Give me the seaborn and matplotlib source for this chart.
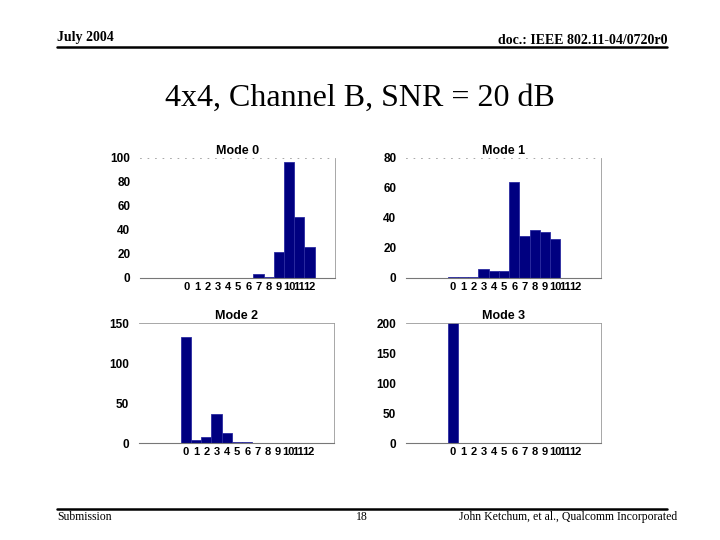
import numpy as np
import pandas as pd
import matplotlib
matplotlib.use("Agg")
import matplotlib.pyplot as plt
import seaborn as sns

# histogram counts per mode, bins 0..12
bins = list(range(13))
mode0 = [0, 0, 0, 0, 0, 0, 0, 3, 1, 22, 97, 51, 26]
mode1 = [1, 1, 1, 6, 5, 5, 64, 28, 32, 31, 26, 0, 0]
mode2 = [133, 4, 8, 36, 12, 1, 1, 0, 0, 0, 0, 0, 0]
mode3 = [200, 0, 0, 0, 0, 0, 0, 0, 0, 0, 0, 0, 0]
titles = ["Mode 0", "Mode 1", "Mode 2", "Mode 3"]
yticks = [[0, 20, 40, 60, 80, 100], [0, 20, 40, 60, 80],
          [0, 50, 100, 150], [0, 50, 100, 150, 200]]

sns.set_style("white")
plt.rcParams['font.family'] = ['Liberation Sans', 'DejaVu Sans']
plt.rcParams['text.color'] = 'black'
plt.rcParams['xtick.color'] = 'black'
plt.rcParams['ytick.color'] = 'black'

fig = plt.figure(figsize=(7.2, 5.4), dpi=100)

# slide header / footer
fig.text(57/720, 1 - 38/540, "July 2004", family="Liberation Serif",
         fontsize=10, fontweight="bold", ha="left", va="center")
fig.text(667/720, 1 - 40/540, "doc.: IEEE 802.11-04/0720r0", family="Liberation Serif",
         fontsize=10, fontweight="bold", ha="right", va="center")
fig.add_artist(plt.Line2D([57/720, 667/720], [1 - 47/540, 1 - 47/540], color="black", lw=1.8))
fig.text(360/720, 1 - 98/540, "4x4, Channel B, SNR = 20 dB", family="Liberation Serif",
         fontsize=23, ha="center", va="center")
fig.add_artist(plt.Line2D([57/720, 667/720], [1 - 509/540, 1 - 509/540], color="black", lw=1.8))
fig.text(57/720, 1 - 517/540, "Submission", family="Liberation Serif",
         fontsize=8.5, ha="left", va="center")
fig.text(362/720, 1 - 517/540, "18", family="Liberation Serif",
         fontsize=8.5, ha="center", va="center")
fig.text(677/720, 1 - 517/540, "John Ketchum, et al., Qualcomm Incorporated",
         family="Liberation Serif", fontsize=8.5, ha="right", va="center")

# axes boxes in pixels: left, top
boxes = [(140, 158), (406, 158), (139, 323), (406, 323)]
w, h = 195, 120
data = [mode0, mode1, mode2, mode3]

for i in range(4):
    left, top = boxes[i]
    ax = fig.add_axes([left/720, 1 - (top + h)/540, w/720, h/540])
    df = pd.DataFrame({"bin": bins, "count": data[i]})
    sns.barplot(data=df, x="bin", y="count", width=1.0, color="#000080",
                edgecolor="#2b2ba0", linewidth=0.6, saturation=1,
                native_scale=True, ax=ax)
    ax.set_xlim(-4.6, 14.5)
    ax.set_ylim(0, yticks[i][-1])
    ax.set_xticks(bins)
    ax.set_xticklabels([str(b) for b in bins], fontsize=8, fontweight="bold")
    ax.set_yticks(yticks[i])
    ax.set_yticklabels([str(t) for t in yticks[i]], fontsize=8.5, fontweight="bold")
    ax.tick_params(axis="x", length=0, pad=3)
    ax.tick_params(axis="y", length=0, pad=7)
    ax.set_xlabel("")
    ax.set_ylabel("")
    ax.set_title(titles[i], fontsize=9, fontweight="bold", pad=3)
    ax.spines["left"].set_visible(False)
    ax.spines["bottom"].set_color("#777777")
    ax.spines["bottom"].set_linewidth(0.8)
    ax.spines["right"].set_color("#999999")
    ax.spines["right"].set_linewidth(0.6)
    ax.spines["top"].set_color("#999999")
    ax.spines["top"].set_linewidth(0.6)
    if i < 2:
        ax.spines["top"].set_linestyle((0, (1, 8)))
    ax.grid(False)

fig.savefig("out.png", dpi=100)
